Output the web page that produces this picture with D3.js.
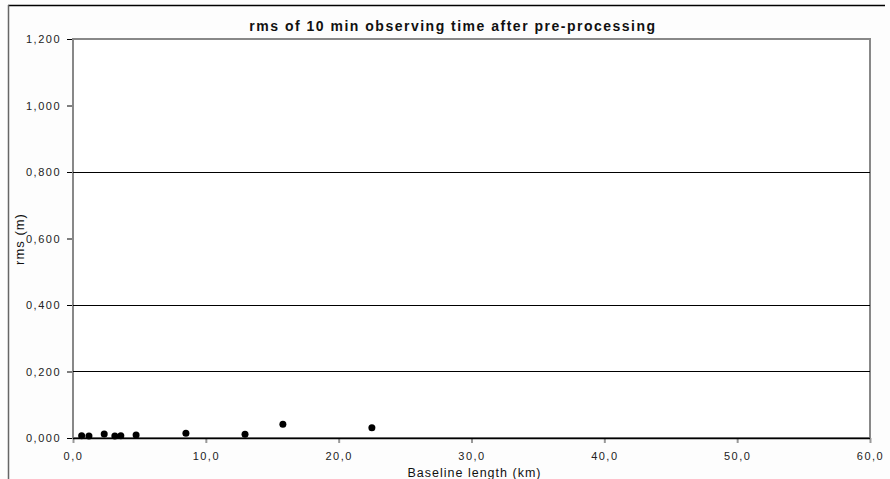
<!DOCTYPE html>
<html>
<head>
<meta charset="utf-8">
<script src="https://cdn.jsdelivr.net/npm/d3@7"></script>
<style>
  body { margin: 0; background: #fdfdfd; }
  svg { display: block; font-family: "Liberation Sans", Arial, sans-serif; }
  .tick text { fill: #222; font-size: 11px; letter-spacing: 1.5px; }
</style>
</head>
<body>
<div class="container"></div>
<script>
let width = 890
let height = 479
let margin = { left: 73, right: 19, top: 39, bottom: 41 }

const title = 'rms of 10 min observing time after pre-processing'
const xLabel = 'Baseline length (km)'
const yLabel = 'rms (m)'
const baselineKm = [0.65, 1.2, 2.35, 3.15, 3.6, 4.75, 8.5, 12.95, 15.8, 22.5]
const rmsM = [0.007, 0.006, 0.012, 0.006, 0.007, 0.009, 0.014, 0.011, 0.041, 0.031]
const xTicks = [0, 10, 20, 30, 40, 50, 60]
const yTicks = [0, 0.2, 0.4, 0.6, 0.8, 1.0, 1.2]
const gridValues = [0.2, 0.4, 0.8]

let points = baselineKm.map((x, i) => ({ x: x, y: rmsM[i] }))

let svg = d3.select('.container')
    .append('svg')
    .attr('width', width)
    .attr('height', height)

let xScale = d3.scaleLinear()
    .domain([0, 60])
    .range([margin.left, width - margin.right - 1])

let yScale = d3.scaleLinear()
    .domain([0, 1.2])
    .range([height - margin.bottom, margin.top])

let commaFmt = (f) => (d) => f(d).replace('.', ',')

// outer frame (only top & left visible in the picture)
svg.append('line')
    .attr('x1', 8).attr('x2', 885).attr('y1', 5.5).attr('y2', 5.5)
    .attr('stroke', '#000').attr('stroke-width', 1.5)
svg.append('line')
    .attr('x1', 8.5).attr('x2', 8.5).attr('y1', 5).attr('y2', height)
    .attr('stroke', '#666').attr('stroke-width', 1.5)

svg.append('text')
    .attr('x', 453)
    .attr('y', 31)
    .attr('text-anchor', 'middle')
    .attr('font-size', '14px')
    .attr('font-weight', 'bold')
    .attr('letter-spacing', '1.5px')
    .attr('fill', '#111')
    .text(title)

// plot area
svg.append('rect')
    .attr('x', xScale(0))
    .attr('y', yScale(1.2))
    .attr('width', xScale(60) - xScale(0))
    .attr('height', yScale(0) - yScale(1.2))
    .attr('fill', '#fff')
    .attr('stroke', '#888')
    .attr('stroke-width', 2)

svg.selectAll('.grid')
    .data(gridValues)
    .enter()
    .append('line')
    .attr('class', 'grid')
    .attr('x1', xScale(0))
    .attr('x2', xScale(60))
    .attr('y1', (d) => Math.round(yScale(d)) + 0.5)
    .attr('y2', (d) => Math.round(yScale(d)) + 0.5)
    .attr('stroke', '#000')

let yAxis = d3.axisLeft(yScale)
    .tickValues(yTicks)
    .tickSize(5)
    .tickPadding(6)
    .tickFormat((d) => d3.format(',.3f')(d).replace('.', ','))

svg.append('g')
    .attr('class', 'y axis')
    .attr('transform', `translate(${xScale(0) - 1},0)`)
    .call(yAxis)
    .call((g) => g.select('.domain').remove())
    .call((g) => g.selectAll('.tick line').attr('stroke', '#000'))

let xAxis = d3.axisBottom(xScale)
    .tickValues(xTicks)
    .tickSize(5)
    .tickPadding(9)
    .tickFormat(commaFmt(d3.format('.1f')))

svg.append('g')
    .attr('class', 'x axis')
    .attr('transform', `translate(0,${yScale(0)})`)
    .call(xAxis)
    .call((g) => g.select('.domain').remove())
    .call((g) => g.selectAll('.tick line').attr('stroke', '#999').attr('stroke-width', 2))

// x axis baseline
svg.append('line')
    .attr('x1', xScale(0))
    .attr('x2', xScale(60))
    .attr('y1', Math.round(yScale(0)) + 0.5)
    .attr('y2', Math.round(yScale(0)) + 0.5)
    .attr('stroke', '#000')
    .attr('stroke-width', 1.5)

svg.selectAll('circle')
    .data(points)
    .enter()
    .append('circle')
    .attr('cx', (d) => xScale(d.x))
    .attr('cy', (d) => yScale(d.y))
    .attr('r', 3.5)
    .attr('fill', '#000')

svg.append('text')
    .attr('x', (xScale(0) + xScale(60)) / 2 + 3)
    .attr('y', 477)
    .attr('text-anchor', 'middle')
    .attr('font-size', '12.5px')
    .attr('letter-spacing', '1px')
    .attr('fill', '#111')
    .text(xLabel)

svg.append('text')
    .attr('transform', 'translate(24,239) rotate(-90)')
    .attr('text-anchor', 'middle')
    .attr('font-size', '13px')
    .attr('letter-spacing', '1px')
    .attr('fill', '#111')
    .text(yLabel)
</script>
</body>
</html>
